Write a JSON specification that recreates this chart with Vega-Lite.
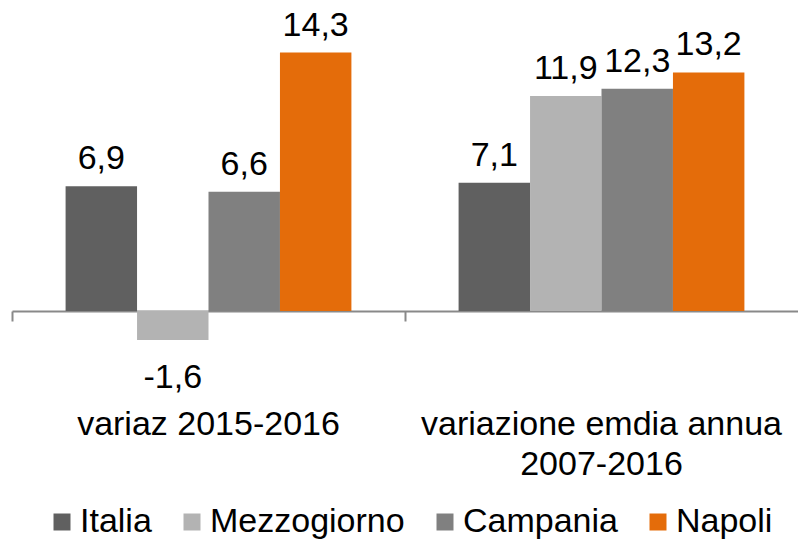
{
  "$schema": "https://vega.github.io/schema/vega-lite/v6.json",
  "autosize": "none",
  "width": 786,
  "height": 291,
  "padding": {"left": 12, "top": 20, "right": 0, "bottom": 232},
  "background": "white",
  "config": {
    "view": {"stroke": null},
    "font": "Liberation Sans",
    "locale": {"number": {"decimal": ",", "thousands": ".", "grouping": [3], "currency": ["€", ""], "minus": "-"}}
  },
  "data": {
    "values": [
      {"periodo": "variaz 2015-2016", "area": "Italia", "valore": 6.9},
      {"periodo": "variaz 2015-2016", "area": "Mezzogiorno", "valore": -1.6},
      {"periodo": "variaz 2015-2016", "area": "Campania", "valore": 6.6},
      {"periodo": "variaz 2015-2016", "area": "Napoli", "valore": 14.3},
      {"periodo": "variazione emdia annua 2007-2016", "area": "Italia", "valore": 7.1},
      {"periodo": "variazione emdia annua 2007-2016", "area": "Mezzogiorno", "valore": 11.9},
      {"periodo": "variazione emdia annua 2007-2016", "area": "Campania", "valore": 12.3},
      {"periodo": "variazione emdia annua 2007-2016", "area": "Napoli", "valore": 13.2}
    ]
  },
  "encoding": {
    "x": {
      "field": "periodo", "type": "nominal", "sort": null,
      "scale": {"paddingInner": 0, "paddingOuter": 0},
      "axis": {
        "title": null, "labelAngle": 0, "bandPosition": 0,
        "domainColor": "#898989", "domainWidth": 2,
        "tickColor": "#898989", "tickWidth": 2, "tickSize": 10,
        "labelFontSize": 34, "labelColor": "#000000", "labelFont": "Liberation Sans",
        "labelPadding": 86, "labelBaseline": "top", "labelLineHeight": 40,
        "labelLimit": 500, "labelOverlap": false, "labelBound": false,
        "labelExpr": "datum.label == 'variazione emdia annua 2007-2016' ? ['variazione emdia annua', '2007-2016'] : datum.label"
      }
    },
    "xOffset": {
      "field": "area", "type": "nominal", "sort": ["Italia", "Mezzogiorno", "Campania", "Napoli"],
      "scale": {"paddingInner": 0, "paddingOuter": 0.75}
    },
    "y": {
      "field": "valore", "type": "quantitative",
      "scale": {"domain": [0, 16.1], "nice": false, "zero": false},
      "axis": null
    }
  },
  "layer": [
    {
      "mark": {"type": "bar", "clip": false},
      "encoding": {
        "color": {
          "field": "area", "type": "nominal",
          "sort": ["Italia", "Mezzogiorno", "Campania", "Napoli"],
          "scale": {"domain": ["Italia", "Mezzogiorno", "Campania", "Napoli"], "range": ["#606060", "#b3b3b3", "#808080", "#e46c0a"]},
          "legend": {
            "title": null, "orient": "none", "direction": "horizontal",
            "legendX": 33, "legendY": 485,
            "symbolType": "square", "symbolSize": 289, "symbolStrokeWidth": 0,
            "labelFontSize": 34, "labelFont": "Liberation Sans", "labelColor": "#000000",
            "labelOffset": 1, "columnPadding": 23, "labelLimit": 400
          }
        }
      }
    },
    {
      "transform": [{"filter": "datum.valore >= 0"}],
      "mark": {"type": "text", "baseline": "bottom", "dy": -10, "fontSize": 34, "font": "Liberation Sans", "color": "#000000"},
      "encoding": {"text": {"field": "valore", "type": "quantitative", "format": ".1f"}}
    },
    {
      "transform": [{"filter": "datum.valore < 0"}],
      "mark": {"type": "text", "baseline": "top", "dy": 21, "fontSize": 34, "font": "Liberation Sans", "color": "#000000"},
      "encoding": {"text": {"field": "valore", "type": "quantitative", "format": ".1f"}}
    }
  ]
}
